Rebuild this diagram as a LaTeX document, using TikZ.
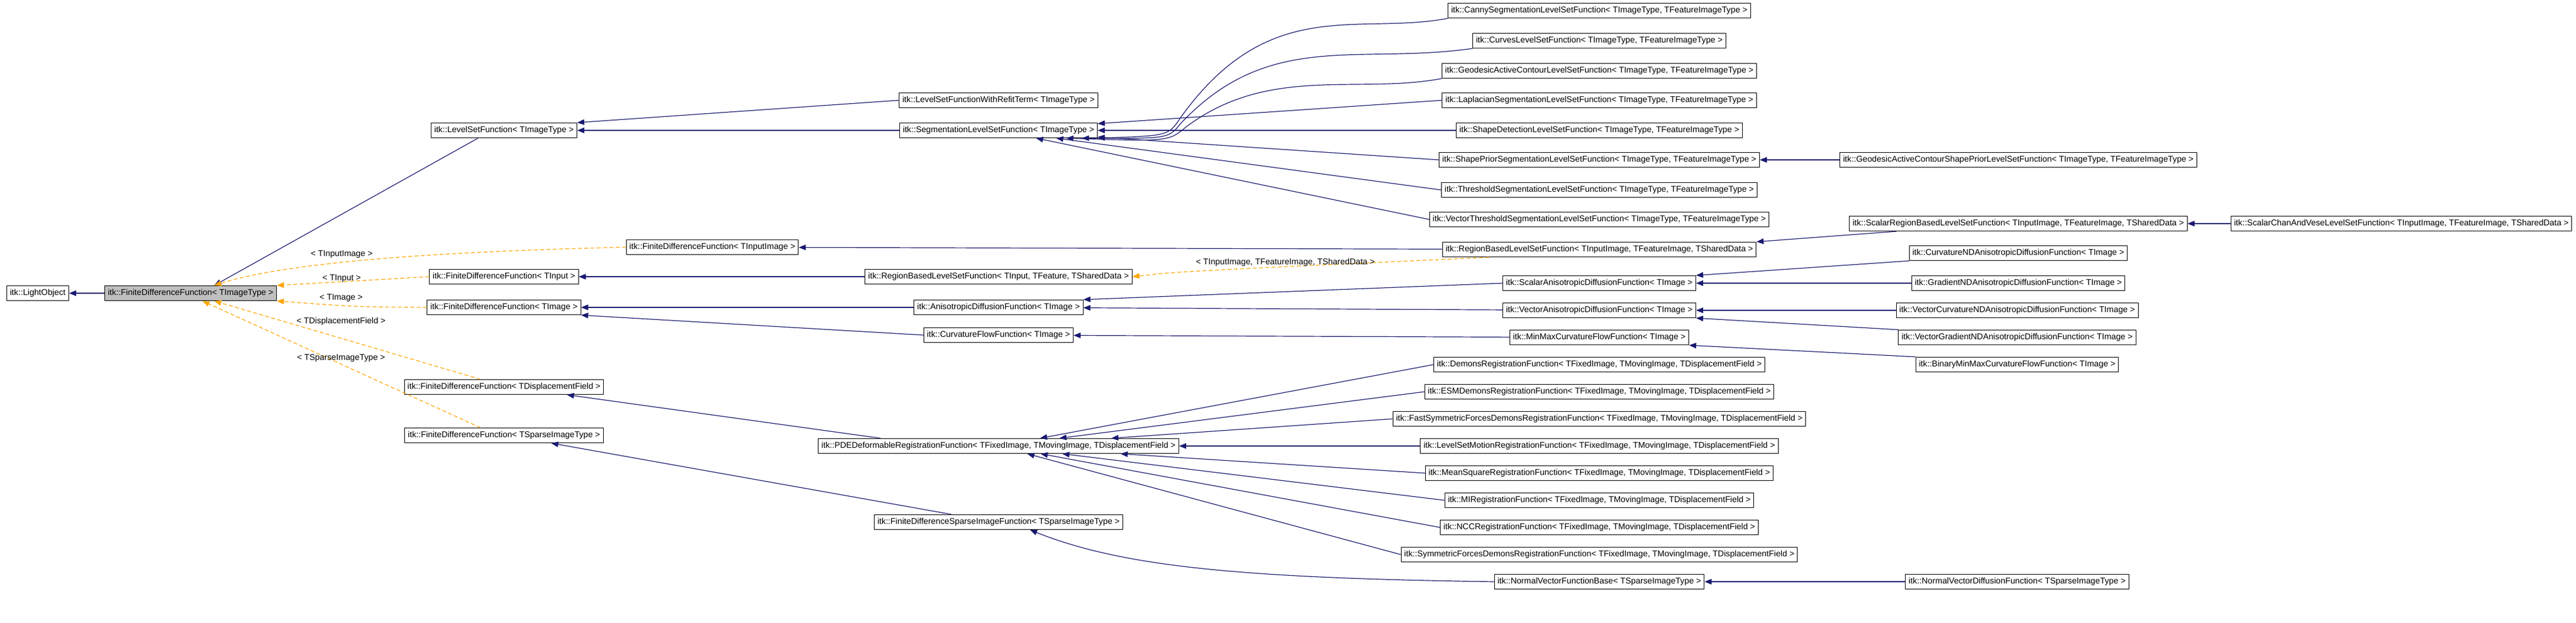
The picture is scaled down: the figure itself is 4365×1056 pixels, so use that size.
\documentclass[tikz,border=0pt]{standalone}
\usepackage{fontspec}
\setmainfont{Liberation Sans}
\usetikzlibrary{arrows.meta}
\definecolor{edgeblue}{HTML}{191970}
\definecolor{tplorange}{HTML}{FFA500}
\begin{document}
\begin{tikzpicture}[x=0.75pt, y=-0.75pt,
      cls/.style={
        draw=black, line width=0.75pt, fill=white, font=\fontsize{10.7}{12}\selectfont,
        inner xsep=4pt, minimum height=19pt
      },
      inh/.style={
        color=edgeblue, line width=0.9pt, -{Triangle[length=9pt,width=7pt]}
      },
      tpl/.style={
        color=tplorange, line width=0.9pt, dashed, dash pattern=on 5pt off 3pt,
        -{Triangle[length=9pt,width=7pt]}
      },
      lbl/.style={font=\fontsize{10.7}{12}\selectfont}
    ]
    \useasboundingbox (0,0) rectangle (4365,1056);
    % base column
    \node [cls] (light) at (64,497) {itk::LightObject};
    \node [cls, fill=black!25] (fdf) at (323,497) {itk::FiniteDifferenceFunction< TImageType >};
    % second column
    \node [cls] (lsf) at (854,221) {itk::LevelSetFunction< TImageType >};
    \node [cls] (fdfin) at (854,469) {itk::FiniteDifferenceFunction< TInput >};
    \node [cls] (fdfim) at (854,521) {itk::FiniteDifferenceFunction< TImage >};
    \node [cls] (fdfdf) at (854,656) {itk::FiniteDifferenceFunction< TDisplacementField >};
    \node [cls] (fdfsp) at (854,738) {itk::FiniteDifferenceFunction< TSparseImageType >};
    \node [cls] (fdfii) at (1207,419) {itk::FiniteDifferenceFunction< TInputImage >};
    % third column
    \node [cls] (refit) at (1692,170) {itk::LevelSetFunctionWithRefitTerm< TImageType >};
    \node [cls] (seg) at (1692,221) {itk::SegmentationLevelSetFunction< TImageType >};
    \node [cls] (rbin) at (1692,469) {itk::RegionBasedLevelSetFunction< TInput, TFeature, TSharedData >};
    \node [cls] (aniso) at (1692,521) {itk::AnisotropicDiffusionFunction< TImage >};
    \node [cls] (cflow) at (1692,568) {itk::CurvatureFlowFunction< TImage >};
    \node [cls] (pde) at (1692,756) {itk::PDEDeformableRegistrationFunction< TFixedImage, TMovingImage, TDisplacementField >};
    \node [cls] (fdsparse) at (1692,885) {itk::FiniteDifferenceSparseImageFunction< TSparseImageType >};
    % fourth column
    \node [cls] (canny) at (2710,18) {itk::CannySegmentationLevelSetFunction< TImageType, TFeatureImageType >};
    \node [cls] (curves) at (2710,69) {itk::CurvesLevelSetFunction< TImageType, TFeatureImageType >};
    \node [cls] (geod) at (2710,120) {itk::GeodesicActiveContourLevelSetFunction< TImageType, TFeatureImageType >};
    \node [cls] (lapl) at (2710,170) {itk::LaplacianSegmentationLevelSetFunction< TImageType, TFeatureImageType >};
    \node [cls] (shdet) at (2710,221) {itk::ShapeDetectionLevelSetFunction< TImageType, TFeatureImageType >};
    \node [cls] (shprior) at (2710,271) {itk::ShapePriorSegmentationLevelSetFunction< TImageType, TFeatureImageType >};
    \node [cls] (thresh) at (2710,322) {itk::ThresholdSegmentationLevelSetFunction< TImageType, TFeatureImageType >};
    \node [cls] (vthresh) at (2710,372) {itk::VectorThresholdSegmentationLevelSetFunction< TImageType, TFeatureImageType >};
    \node [cls] (rbii) at (2710,423) {itk::RegionBasedLevelSetFunction< TInputImage, TFeatureImage, TSharedData >};
    \node [cls] (scaniso) at (2710,480) {itk::ScalarAnisotropicDiffusionFunction< TImage >};
    \node [cls] (vecaniso) at (2710,526) {itk::VectorAnisotropicDiffusionFunction< TImage >};
    \node [cls] (minmax) at (2710,572) {itk::MinMaxCurvatureFlowFunction< TImage >};
    \node [cls] (demons) at (2710,618) {itk::DemonsRegistrationFunction< TFixedImage, TMovingImage, TDisplacementField >};
    \node [cls] (esm) at (2710,664) {itk::ESMDemonsRegistrationFunction< TFixedImage, TMovingImage, TDisplacementField >};
    \node [cls] (fastsym) at (2710,710) {itk::FastSymmetricForcesDemonsRegistrationFunction< TFixedImage, TMovingImage, TDisplacementField >};
    \node [cls] (lsmotion) at (2710,756) {itk::LevelSetMotionRegistrationFunction< TFixedImage, TMovingImage, TDisplacementField >};
    \node [cls] (meansq) at (2710,802) {itk::MeanSquareRegistrationFunction< TFixedImage, TMovingImage, TDisplacementField >};
    \node [cls] (mireg) at (2710,848) {itk::MIRegistrationFunction< TFixedImage, TMovingImage, TDisplacementField >};
    \node [cls] (ncc) at (2710,894) {itk::NCCRegistrationFunction< TFixedImage, TMovingImage, TDisplacementField >};
    \node [cls] (symf) at (2710,940) {itk::SymmetricForcesDemonsRegistrationFunction< TFixedImage, TMovingImage, TDisplacementField >};
    \node [cls] (nvbase) at (2710,986) {itk::NormalVectorFunctionBase< TSparseImageType >};
    % fifth and sixth column
    \node [cls] (gacsp) at (3420,271) {itk::GeodesicActiveContourShapePriorLevelSetFunction< TImageType, TFeatureImageType >};
    \node [cls] (scrb) at (3420,379) {itk::ScalarRegionBasedLevelSetFunction< TInputImage, TFeatureImage, TSharedData >};
    \node [cls] (cvnd) at (3420,429) {itk::CurvatureNDAnisotropicDiffusionFunction< TImage >};
    \node [cls] (grnd) at (3420,480) {itk::GradientNDAnisotropicDiffusionFunction< TImage >};
    \node [cls] (vcvnd) at (3418,526) {itk::VectorCurvatureNDAnisotropicDiffusionFunction< TImage >};
    \node [cls] (vgrnd) at (3418,572) {itk::VectorGradientNDAnisotropicDiffusionFunction< TImage >};
    \node [cls] (binmm) at (3418,618) {itk::BinaryMinMaxCurvatureFlowFunction< TImage >};
    \node [cls] (nvdiff) at (3418,986) {itk::NormalVectorDiffusionFunction< TSparseImageType >};
    \node [cls] (chanvese) at (4069,379) {itk::ScalarChanAndVeseLevelSetFunction< TInputImage, TFeatureImage, TSharedData >};
    % inheritance
    \draw [inh] (fdf) -- (light);
    \draw [inh] (lsf.south west) ++(80,0) -- ([xshift=30pt]fdf.north);
    \draw [inh] (refit.west) -- (lsf.north east);
    \draw [inh] (seg) -- (lsf);
    \draw [inh] (canny.south west) .. controls (2300,60) and (2150,-10) .. (2000,200) .. controls (1980,230) .. (seg.south east);
    \draw [inh] (curves.south west) .. controls (2300,110) and (2150,50) .. (2000,210) .. controls (1980,235) .. ([xshift=-20pt]seg.south east);
    \draw [inh] (geod.south west) .. controls (2300,160) and (2150,110) .. (2010,215) .. controls (1980,240) .. ([xshift=-40pt]seg.south east);
    \foreach \c in {lapl,shdet,shprior,thresh,vthresh}
      \draw [inh] (\c.west) -- (seg);
    \draw [inh] (gacsp) -- (shprior);
    \draw [inh] (rbii) -- (fdfii);
    \draw [inh] (rbin) -- (fdfin);
    \draw [inh] (scrb.south west) ++(80,0) -- (rbii.north east);
    \draw [inh] (chanvese) -- (scrb);
    \draw [inh] (aniso) -- (fdfim);
    \draw [inh] (cflow.west) -- (fdfim.south east);
    \draw [inh] (scaniso.west) -- (aniso.north east);
    \draw [inh] (vecaniso) -- (aniso);
    \draw [inh] (cvnd.south west) -- (scaniso.north east);
    \draw [inh] (grnd) -- (scaniso);
    \draw [inh] (vcvnd) -- (vecaniso);
    \draw [inh] (vgrnd.north west) -- (vecaniso.south east);
    \draw [inh] (minmax) -- (cflow);
    \draw [inh] (binmm.north west) -- (minmax.south east);
    \draw [inh] ([xshift=-150pt]pde.north) -- ([xshift=80pt]fdfdf.south);
    \foreach \c in {demons,esm,fastsym,lsmotion,meansq,mireg,ncc,symf}
      \draw [inh] (\c.west) -- (pde);
    \draw [inh] ([xshift=-60pt]fdsparse.north) -- ([xshift=60pt]fdfsp.south);
    \draw [inh] (nvbase.west) .. controls (2100,980) and (1900,960) .. ([xshift=40pt]fdsparse.south);
    \draw [inh] (nvdiff) -- (nvbase);
    % template instances
    \draw [tpl] (fdfii.west) .. controls (800,425) and (500,440) .. ([xshift=30pt]fdf.north);
    \draw [tpl] (fdfin.west) -- (fdf.north east);
    \draw [tpl] (fdfim.west) .. controls (600,520) .. (fdf.south east);
    \draw [tpl] ([xshift=-30pt]fdfdf.north) -- ([xshift=30pt]fdf.south);
    \draw [tpl] ([xshift=-30pt]fdfsp.north) -- ([xshift=15pt]fdf.south);
    \draw [tpl] (rbii.south west) ++(80,0) .. controls (2000,460) .. (rbin.east);
    \node [lbl] (lii) at (579,431) {< TInputImage >};
    \node [lbl] (lin) at (579,472) {< TInput >};
    \node [lbl] (lim) at (578,505) {< TImage >};
    \node [lbl] (ldf) at (578,545) {< TDisplacementField >};
    \node [lbl] (lsp) at (578,607) {< TSparseImageType >};
    \node [lbl] (lrb) at (2178,445) {< TInputImage, TFeatureImage, TSharedData >};
  \end{tikzpicture}
\end{document}
